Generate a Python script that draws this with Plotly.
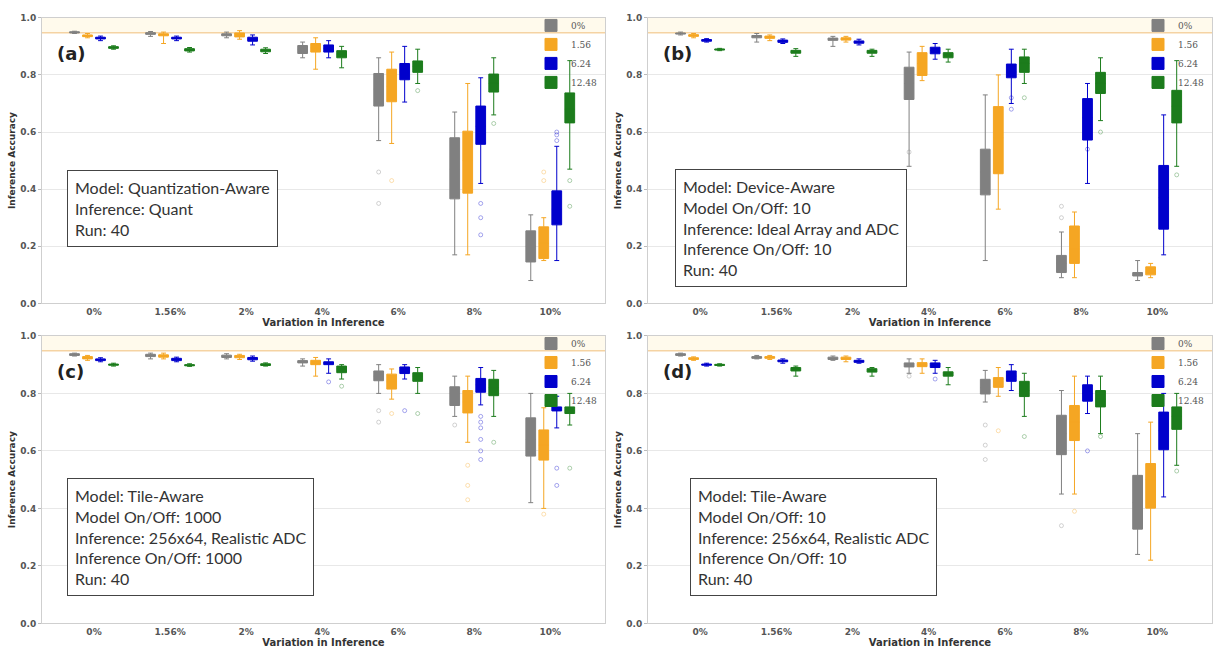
import plotly.graph_objects as go

CATEGORIES = ["0%", "1.56%", "2%", "4%", "6%", "8%", "10%"]
SERIES = ["0%", "1.56", "6.24", "12.48"]
COLORS = ["#808080", "#F5A623", "#0000CC", "#1C7C1C"]

# ---- panel (a) ----
a_grey = dict(lo=[0.945, 0.935, 0.93, 0.86, 0.57, 0.17, 0.08],
              q1=[0.947, 0.942, 0.937, 0.875, 0.691, 0.366, 0.145],
              med=[0.949, 0.945, 0.94, 0.89, 0.75, 0.47, 0.2],
              q3=[0.951, 0.948, 0.944, 0.903, 0.805, 0.58, 0.254],
              hi=[0.953, 0.952, 0.95, 0.915, 0.86, 0.67, 0.31],
              out=[[], [], [], [], [0.46, 0.35], [], []])
a_orange = dict(lo=[0.93, 0.91, 0.925, 0.82, 0.56, 0.17, 0.15],
                q1=[0.934, 0.937, 0.933, 0.88, 0.706, 0.386, 0.157],
                med=[0.937, 0.94, 0.94, 0.895, 0.76, 0.5, 0.21],
                q3=[0.94, 0.944, 0.947, 0.91, 0.82, 0.603, 0.268],
                hi=[0.945, 0.95, 0.955, 0.93, 0.88, 0.77, 0.3],
                out=[[], [], [], [], [0.43], [], [0.46, 0.43]])
a_blue = dict(lo=[0.92, 0.92, 0.905, 0.86, 0.705, 0.42, 0.15],
              q1=[0.926, 0.926, 0.918, 0.88, 0.783, 0.557, 0.275],
              med=[0.929, 0.929, 0.925, 0.893, 0.81, 0.62, 0.33],
              q3=[0.932, 0.932, 0.932, 0.905, 0.84, 0.691, 0.394],
              hi=[0.936, 0.936, 0.94, 0.92, 0.9, 0.79, 0.55],
              out=[[], [], [], [], [], [0.35, 0.3, 0.24], [0.59, 0.6, 0.57]])
a_green = dict(lo=[0.89, 0.88, 0.875, 0.825, 0.77, 0.66, 0.47],
               q1=[0.893, 0.884, 0.881, 0.86, 0.809, 0.74, 0.632],
               med=[0.896, 0.888, 0.886, 0.873, 0.83, 0.77, 0.68],
               q3=[0.899, 0.892, 0.89, 0.885, 0.849, 0.803, 0.737],
               hi=[0.902, 0.896, 0.895, 0.9, 0.89, 0.86, 0.85],
               out=[[], [], [], [], [0.745], [0.63], [0.43, 0.34]])

# ---- panel (b) ----
b_grey = dict(lo=[0.94, 0.915, 0.9, 0.48, 0.15, 0.09, 0.08],
              q1=[0.943, 0.93, 0.921, 0.714, 0.38, 0.108, 0.096],
              med=[0.945, 0.934, 0.925, 0.77, 0.46, 0.14, 0.1],
              q3=[0.947, 0.938, 0.929, 0.827, 0.54, 0.168, 0.108],
              hi=[0.95, 0.945, 0.935, 0.88, 0.73, 0.25, 0.15],
              out=[[], [], [], [0.53], [], [0.34, 0.3], []])
b_orange = dict(lo=[0.93, 0.92, 0.915, 0.78, 0.33, 0.09, 0.09],
                q1=[0.935, 0.928, 0.922, 0.798, 0.454, 0.14, 0.1],
                med=[0.938, 0.932, 0.926, 0.84, 0.58, 0.19, 0.11],
                q3=[0.941, 0.936, 0.93, 0.878, 0.689, 0.271, 0.128],
                hi=[0.945, 0.94, 0.935, 0.9, 0.8, 0.32, 0.14],
                out=[[], [], [], [], [], [], []])
b_blue = dict(lo=[0.915, 0.91, 0.905, 0.855, 0.7, 0.42, 0.17],
              q1=[0.918, 0.914, 0.911, 0.874, 0.79, 0.572, 0.26],
              med=[0.921, 0.918, 0.915, 0.885, 0.81, 0.65, 0.37],
              q3=[0.924, 0.922, 0.919, 0.897, 0.838, 0.717, 0.483],
              hi=[0.927, 0.926, 0.925, 0.91, 0.89, 0.77, 0.66],
              out=[[], [], [], [], [0.72, 0.68], [0.58, 0.54], []])
b_green = dict(lo=[0.885, 0.865, 0.865, 0.845, 0.77, 0.64, 0.48],
               q1=[0.887, 0.876, 0.876, 0.86, 0.809, 0.735, 0.632],
               med=[0.889, 0.881, 0.881, 0.87, 0.84, 0.77, 0.69],
               q3=[0.891, 0.886, 0.886, 0.878, 0.863, 0.809, 0.746],
               hi=[0.893, 0.892, 0.89, 0.89, 0.89, 0.86, 0.85],
               out=[[], [], [], [], [0.72], [0.6], [0.45]])

# ---- panel (c) ----
c_grey = dict(lo=[0.93, 0.92, 0.92, 0.895, 0.8, 0.72, 0.42],
              q1=[0.932, 0.928, 0.925, 0.906, 0.844, 0.758, 0.582],
              med=[0.935, 0.932, 0.929, 0.91, 0.86, 0.8, 0.64],
              q3=[0.938, 0.936, 0.933, 0.914, 0.878, 0.823, 0.715],
              hi=[0.94, 0.94, 0.938, 0.92, 0.9, 0.86, 0.8],
              out=[[], [], [], [], [0.74, 0.7], [0.69], []])
c_orange = dict(lo=[0.915, 0.92, 0.918, 0.86, 0.78, 0.63, 0.4],
                q1=[0.92, 0.926, 0.924, 0.9, 0.815, 0.732, 0.568],
                med=[0.924, 0.93, 0.928, 0.905, 0.84, 0.77, 0.62],
                q3=[0.928, 0.934, 0.932, 0.915, 0.867, 0.81, 0.673],
                hi=[0.932, 0.94, 0.936, 0.925, 0.885, 0.86, 0.75],
                out=[[], [], [], [], [0.73], [0.55, 0.48, 0.43], [0.38]])
c_blue = dict(lo=[0.91, 0.91, 0.912, 0.87, 0.85, 0.76, 0.68],
              q1=[0.914, 0.914, 0.917, 0.9, 0.869, 0.804, 0.739],
              med=[0.917, 0.918, 0.921, 0.905, 0.88, 0.83, 0.745],
              q3=[0.92, 0.922, 0.925, 0.91, 0.892, 0.852, 0.753],
              hi=[0.924, 0.926, 0.93, 0.92, 0.9, 0.89, 0.79],
              out=[[], [], [], [0.84], [0.74], [0.72, 0.7, 0.68, 0.64, 0.6, 0.57], [0.54, 0.48]])
c_green = dict(lo=[0.895, 0.894, 0.895, 0.85, 0.8, 0.72, 0.69],
               q1=[0.898, 0.896, 0.897, 0.872, 0.842, 0.792, 0.73],
               med=[0.9, 0.898, 0.9, 0.885, 0.86, 0.82, 0.74],
               q3=[0.902, 0.9, 0.903, 0.895, 0.872, 0.849, 0.753],
               hi=[0.905, 0.903, 0.906, 0.9, 0.89, 0.88, 0.8],
               out=[[], [], [], [0.825], [0.73], [0.63], [0.54]])

# ---- panel (d) ----
d_grey = dict(lo=[0.93, 0.92, 0.915, 0.87, 0.77, 0.45, 0.24],
              q1=[0.932, 0.922, 0.918, 0.892, 0.798, 0.587, 0.328],
              med=[0.935, 0.925, 0.922, 0.9, 0.82, 0.66, 0.42],
              q3=[0.938, 0.928, 0.926, 0.906, 0.849, 0.724, 0.515],
              hi=[0.94, 0.932, 0.93, 0.92, 0.88, 0.81, 0.66],
              out=[[], [], [], [0.86], [0.69, 0.62, 0.57], [0.34], []])
d_orange = dict(lo=[0.915, 0.918, 0.91, 0.87, 0.79, 0.45, 0.22],
                q1=[0.918, 0.922, 0.918, 0.893, 0.821, 0.636, 0.401],
                med=[0.921, 0.925, 0.922, 0.9, 0.84, 0.7, 0.5],
                q3=[0.924, 0.928, 0.926, 0.907, 0.855, 0.758, 0.556],
                hi=[0.927, 0.932, 0.93, 0.92, 0.89, 0.86, 0.7],
                out=[[], [], [], [], [0.67], [0.39], []])
d_blue = dict(lo=[0.895, 0.905, 0.905, 0.87, 0.81, 0.73, 0.44],
              q1=[0.898, 0.91, 0.908, 0.89, 0.842, 0.773, 0.604],
              med=[0.9, 0.913, 0.912, 0.898, 0.86, 0.8, 0.67],
              q3=[0.902, 0.916, 0.915, 0.906, 0.878, 0.83, 0.735],
              hi=[0.905, 0.92, 0.92, 0.915, 0.9, 0.86, 0.8],
              out=[[], [], [], [0.85], [], [0.6], []])
d_green = dict(lo=[0.895, 0.86, 0.86, 0.83, 0.72, 0.66, 0.55],
               q1=[0.897, 0.878, 0.874, 0.86, 0.789, 0.753, 0.675],
               med=[0.899, 0.884, 0.88, 0.867, 0.81, 0.78, 0.72],
               q3=[0.901, 0.89, 0.886, 0.875, 0.842, 0.81, 0.753],
               hi=[0.903, 0.895, 0.89, 0.89, 0.87, 0.86, 0.8],
               out=[[], [], [], [], [0.65], [0.65], [0.53]])

BASELINE = 0.948
PANEL_LABELS = ["(a)", "(b)", "(c)", "(d)"]
INFO_TEXTS = [
    "Model: Quantization-Aware<br>Inference: Quant<br>Run: 40",
    "Model: Device-Aware<br>Model On/Off: 10<br>Inference: Ideal Array and ADC<br>Inference On/Off: 10<br>Run: 40",
    "Model: Tile-Aware<br>Model On/Off: 1000<br>Inference: 256x64, Realistic ADC<br>Inference On/Off: 1000<br>Run: 40",
    "Model: Tile-Aware<br>Model On/Off: 10<br>Inference: 256x64, Realistic ADC<br>Inference On/Off: 10<br>Run: 40",
]
PANELS = [
    [a_grey, a_orange, a_blue, a_green],
    [b_grey, b_orange, b_blue, b_green],
    [c_grey, c_orange, c_blue, c_green],
    [d_grey, d_orange, d_blue, d_green],
]

W, H = 1217, 657
# layout (pixels)
XDOM = [(42, 605), (648, 1212), (42, 605), (648, 1212)]
YDOM = [(13, 303), (13, 303), (336, 628), (336, 628)]
INFO_POS = [(67, 168), (675, 167), (67, 480), (690, 480)]
GAP = 0.316

fig = go.Figure()

for p, series_list in enumerate(PANELS):
    ax = "" if p == 0 else str(p + 1)
    leg = "legend" if p == 0 else f"legend{p + 1}"
    for s, st in enumerate(series_list):
        fig.add_trace(go.Box(
            x=CATEGORIES,
            q1=st["q1"], median=st["med"], q3=st["q3"],
            lowerfence=st["lo"], upperfence=st["hi"],
            name=SERIES[s], legend=leg, offsetgroup=str(s),
            xaxis="x" + ax, yaxis="y" + ax,
            fillcolor=COLORS[s],
            line=dict(color=COLORS[s], width=1),
            whiskerwidth=0.5, boxpoints=False,
        ))
    for s, st in enumerate(series_list):
        ox, oy = [], []
        for cat, vals in zip(CATEGORIES, st["out"]):
            for v in vals:
                ox.append(cat)
                oy.append(v)
        fig.add_trace(go.Scatter(
            x=ox, y=oy, mode="markers", offsetgroup=str(s),
            xaxis="x" + ax, yaxis="y" + ax, showlegend=False,
            marker=dict(size=4, color=COLORS[s], opacity=0.35,
                        symbol="circle-open", line=dict(width=1)),
            hoverinfo="skip",
        ))

layout = dict(
    width=W, height=H,
    margin=dict(l=0, r=0, t=0, b=0),
    paper_bgcolor="white", plot_bgcolor="white",
    boxmode="group", boxgap=GAP, boxgroupgap=0.25,
    scattermode="group", scattergap=GAP,
    font=dict(family="DejaVu Sans", color="#444"),
    shapes=[], annotations=[],
)

for p in range(4):
    ax = "" if p == 0 else str(p + 1)
    x0, x1 = XDOM[p]
    y0, y1 = YDOM[p]
    layout["xaxis" + ax] = dict(
        domain=[x0 / W, x1 / W], anchor="y" + ax,
        type="category", categoryorder="array", categoryarray=CATEGORIES,
        range=[-0.684, 6.72],
        showline=True, mirror=True, linecolor="#cfcfcf", linewidth=1,
        showgrid=False, ticks="", zeroline=False,
        tickfont=dict(size=9, weight="bold", color="#555"),
        title=dict(text="Variation in Inference", standoff=2,
                   font=dict(size=10, weight="bold", color="#333")),
    )
    layout["yaxis" + ax] = dict(
        domain=[1 - y1 / H, 1 - y0 / H], anchor="x" + ax,
        range=[0, 1.0], tickvals=[0, 0.2, 0.4, 0.6, 0.8, 1.0],
        tickformat=".1f",
        showline=True, mirror=True, linecolor="#cfcfcf", linewidth=1,
        showgrid=True, gridcolor="#e8e8e8", zeroline=False,
        ticks="outside", ticklen=3, tickcolor="#bbb",
        tickfont=dict(size=9, weight="bold", color="#555"),
        title=dict(text="Inference Accuracy", standoff=3,
                   font=dict(size=9, weight="bold", color="#333")),
    )
    xr = "x" + ax + " domain"
    yr = "y" + ax
    layout["shapes"].append(dict(type="rect", xref=xr, yref=yr, x0=0, x1=1,
                                 y0=BASELINE, y1=1.0, fillcolor="#fffaec",
                                 line=dict(width=0), layer="below"))
    layout["shapes"].append(dict(type="line", xref=xr, yref=yr, x0=0, x1=1,
                                 y0=BASELINE, y1=BASELINE,
                                 line=dict(color="#f5d3a3", width=1.5),
                                 layer="below"))
    layout["annotations"].append(dict(
        text=PANEL_LABELS[p], xref="paper", yref="paper",
        x=(x0 + 13) / W, y=1 - (y0 + 36) / H, xanchor="left", yanchor="middle",
        showarrow=False, font=dict(size=18, weight="bold", color="#222",
                                   family="DejaVu Sans")))
    ix, iy = INFO_POS[p]
    layout["annotations"].append(dict(
        text=INFO_TEXTS[p], xref="paper", yref="paper",
        x=ix / W, y=1 - iy / H, xanchor="left", yanchor="top", align="left",
        showarrow=False, bordercolor="#444", borderwidth=1, borderpad=7,
        bgcolor="white",
        font=dict(size=16, color="#333", family="Lato")))
    lname = "legend" if p == 0 else f"legend{p + 1}"
    layout[lname] = dict(
        x=(x1 - 2) / W, y=1 - (y0 - 7) / H, xanchor="right", yanchor="top",
        xref="paper", yref="paper",
        bgcolor="rgba(0,0,0,0)", borderwidth=0,
        font=dict(size=9, color="#555", family="DejaVu Serif"),
        itemwidth=30, tracegroupgap=0,
    )

fig.update_layout(**layout)
fig.write_html("out.html")
